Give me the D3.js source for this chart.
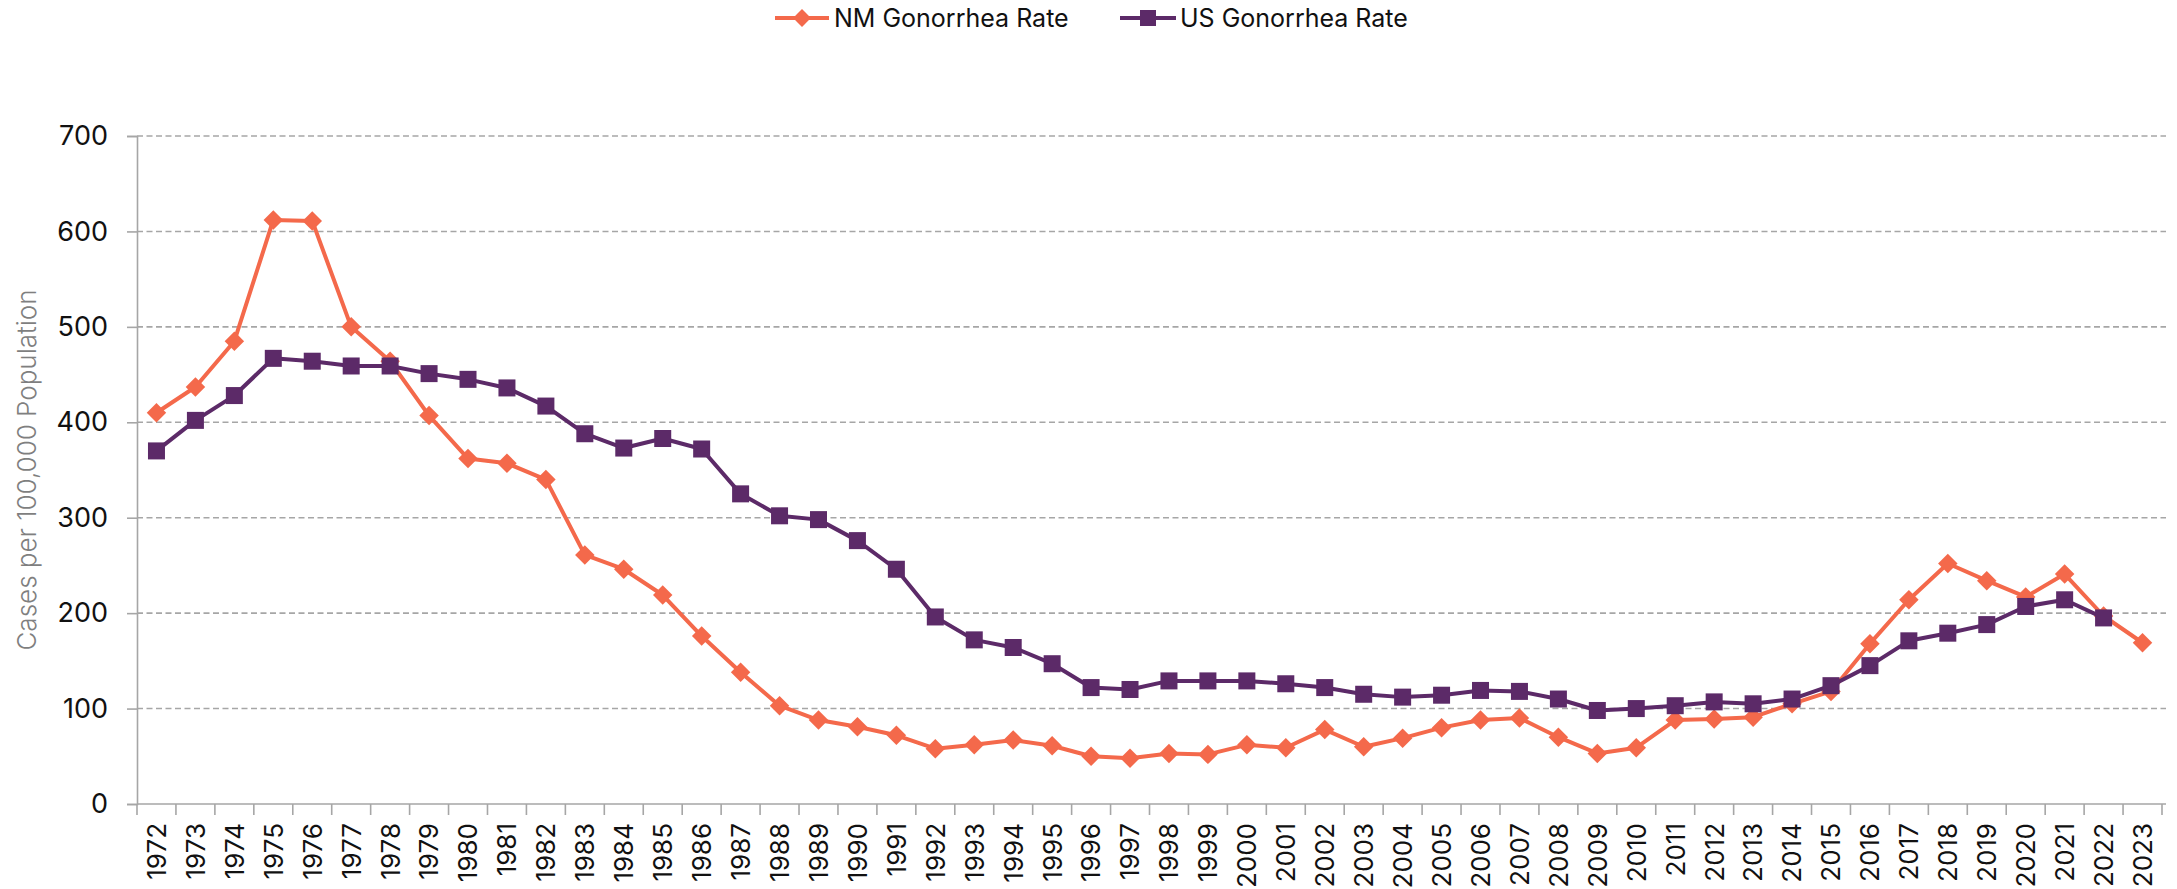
<!DOCTYPE html>
<html>
<head>
<meta charset="utf-8">
<script src="https://cdn.jsdelivr.net/npm/d3@7"></script>
<style>
  body { margin: 0; background: #fff; }
  text { font-family: Inter, "Noto Sans", sans-serif; }
</style>
</head>
<body>
<div id="chart"></div>
<script>
// years on the x axis
const years = d3.range(1972, 2024).map(String)

// NM rate per 100,000
const nmRate = [410, 437, 485, 612, 611, 500, 464, 407, 362, 357,
  340, 261, 246, 219, 176, 138, 103, 88, 81, 72,
  58, 62, 67, 61, 50, 48, 53, 52, 62, 59,
  78, 60, 69, 80, 88, 90, 70, 53, 59, 88,
  89, 91, 105, 118, 168, 214, 252, 234, 217, 241,
  197, 169]

// US rate per 100,000 (no 2023 value)
const usRate = [370, 402, 428, 467, 464, 459, 459, 451, 445, 436,
  417, 388, 373, 383, 372, 325, 302, 298, 276, 246,
  196, 172, 164, 147, 122, 120, 129, 129, 129, 126,
  122, 115, 112, 114, 119, 118, 110, 98, 100, 103,
  107, 105, 110, 124, 145, 171, 179, 188, 207, 214,
  195, null]

const yTicks = [0, 100, 200, 300, 400, 500, 600, 700]

const nmColor = "#f4694b"
const usColor = "#5c2a68"
const gridColor = "#a6a6a6"

const width = 2177
const height = 889
const plotLeft = 137
const plotRight = 2162
const plotTop = 136
const plotBottom = 804

const svg = d3.select("#chart")
  .append("svg")
  .attr("width", width)
  .attr("height", height)

const xScale = d3.scaleBand()
  .domain(years)
  .range([plotLeft, plotRight])

const yScale = d3.scaleLinear()
  .domain([0, 700])
  .range([plotBottom, plotTop])

const xc = d => xScale(d) + xScale.bandwidth() / 2

// gridlines
svg.append("g")
  .selectAll("line")
  .data(yTicks.filter(d => d > 0))
  .enter()
  .append("line")
  .attr("x1", plotLeft)
  .attr("x2", plotRight + 4)
  .attr("y1", d => yScale(d))
  .attr("y2", d => yScale(d))
  .attr("stroke", gridColor)
  .attr("stroke-width", 1.6)
  .attr("stroke-dasharray", "6,3.5")

// y axis
const yAxis = d3.axisLeft(yScale).tickValues(yTicks).tickSize(10).tickPadding(19)
const yG = svg.append("g")
  .attr("transform", "translate(" + plotLeft + ",0)")
  .call(yAxis)
yG.select(".domain").attr("stroke", gridColor).attr("stroke-width", 1.6)
yG.selectAll(".tick line").attr("stroke", gridColor).attr("stroke-width", 1.6)
yG.selectAll(".tick text")
  .attr("font-size", 27)
  .attr("fill", "#111")
  .style("font-family", "Inter, sans-serif")

// x axis line and ticks between categories
svg.append("line")
  .attr("x1", plotLeft)
  .attr("x2", plotRight + 4)
  .attr("y1", plotBottom)
  .attr("y2", plotBottom)
  .attr("stroke", gridColor)
  .attr("stroke-width", 1.6)

const bounds = years.map(d => xScale(d)).concat([plotRight])
svg.append("g")
  .selectAll("line")
  .data(bounds)
  .enter()
  .append("line")
  .attr("x1", d => d)
  .attr("x2", d => d)
  .attr("y1", plotBottom)
  .attr("y2", plotBottom + 11)
  .attr("stroke", gridColor)
  .attr("stroke-width", 1.6)

// x labels, rotated
svg.append("g")
  .selectAll("text")
  .data(years)
  .enter()
  .append("text")
  .attr("transform", d => "translate(" + xc(d) + "," + (plotBottom + 19) + ")rotate(-90)")
  .attr("text-anchor", "end")
  .attr("dy", "0.36em")
  .attr("font-size", 26)
  .attr("fill", "#111")
  .text(d => d)

// y axis title
svg.append("text")
  .attr("transform", "translate(27," + ((plotTop + plotBottom) / 2) + ")rotate(-90)")
  .attr("text-anchor", "middle")
  .attr("dy", "0.36em")
  .attr("font-size", 26)
  .attr("font-weight", 300)
  .attr("fill", "#7f7f7f")
  .text("Cases per 100,000 Population")

// lines
const line = d3.line()
  .defined(d => d.v != null)
  .x(d => xc(d.year))
  .y(d => yScale(d.v))

const nmData = years.map((y, i) => ({ year: y, v: nmRate[i] }))
const usData = years.map((y, i) => ({ year: y, v: usRate[i] }))

svg.append("path")
  .datum(nmData)
  .attr("d", line)
  .attr("fill", "none")
  .attr("stroke", nmColor)
  .attr("stroke-width", 4)
  .attr("stroke-linejoin", "round")

svg.append("g")
  .selectAll("path")
  .data(nmData)
  .enter()
  .append("path")
  .attr("d", d3.symbol(d3.symbolSquare, 190)())
  .attr("transform", d => "translate(" + xc(d.year) + "," + yScale(d.v) + ")rotate(45)")
  .attr("fill", nmColor)

svg.append("path")
  .datum(usData)
  .attr("d", line)
  .attr("fill", "none")
  .attr("stroke", usColor)
  .attr("stroke-width", 4)
  .attr("stroke-linejoin", "round")

svg.append("g")
  .selectAll("rect")
  .data(usData.filter(d => d.v != null))
  .enter()
  .append("rect")
  .attr("x", d => xc(d.year) - 8.5)
  .attr("y", d => yScale(d.v) - 8.5)
  .attr("width", 17)
  .attr("height", 17)
  .attr("fill", usColor)

// legend
const legend = svg.append("g").attr("transform", "translate(0,18)")

legend.append("line")
  .attr("x1", 775).attr("x2", 829)
  .attr("stroke", nmColor).attr("stroke-width", 4)
legend.append("path")
  .attr("d", d3.symbol(d3.symbolSquare, 160)())
  .attr("transform", "translate(802,0)rotate(45)")
  .attr("fill", nmColor)
legend.append("text")
  .attr("x", 834).attr("dy", "0.36em")
  .attr("font-size", 25).attr("fill", "#111")
  .text("NM Gonorrhea Rate")

legend.append("line")
  .attr("x1", 1120).attr("x2", 1176)
  .attr("stroke", usColor).attr("stroke-width", 4)
legend.append("rect")
  .attr("x", 1140).attr("y", -8).attr("width", 16).attr("height", 16)
  .attr("fill", usColor)
legend.append("text")
  .attr("x", 1180).attr("dy", "0.36em")
  .attr("font-size", 25).attr("fill", "#111")
  .text("US Gonorrhea Rate")
</script>
</body>
</html>
